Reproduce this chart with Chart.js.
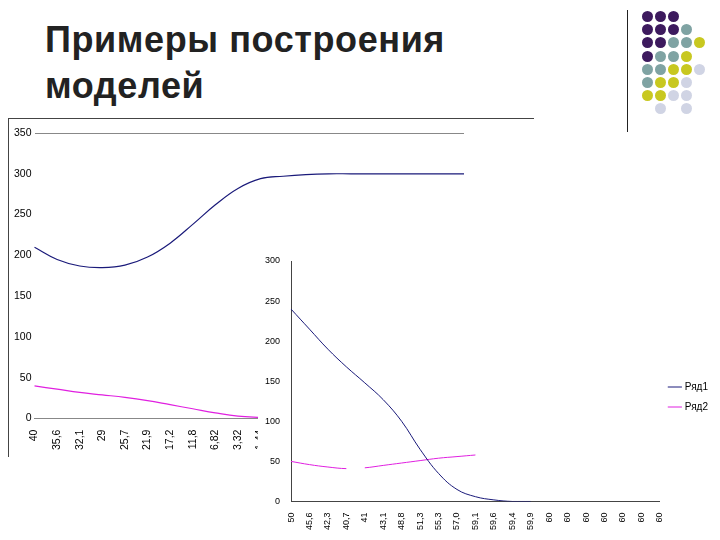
<!DOCTYPE html>
<html><head><meta charset="utf-8">
<script src="https://cdn.jsdelivr.net/npm/chart.js@4/dist/chart.umd.min.js"></script>
<style>
body{margin:0;width:720px;height:540px;background:#fff;position:relative;overflow:hidden;font-family:"Liberation Sans",Arial,sans-serif}
#title{position:absolute;left:45px;top:17px;font-size:36px;line-height:46px;color:#222;font-weight:bold;letter-spacing:0.6px}
.d{position:absolute;width:11px;height:11px;border-radius:50%}
#vl{position:absolute;left:627px;top:10px;width:1px;height:122px;background:#222}
#c1w{position:absolute;left:8px;top:118px;width:525px;height:338px;border-left:1px solid #444;border-top:1px solid #444}
#c2w{position:absolute;left:258px;top:245px;width:460px;height:292px;background:#fff}
canvas{display:block}
</style></head><body>
<div id="title">Примеры построения<br>моделей</div>
<div id="vl"></div>
<div id="dots"></div>
<div id="c1w"><canvas id="c1" width="525" height="338"></canvas></div>
<div id="c2w"><canvas id="c2" width="460" height="290"></canvas></div>
<script>
const labels1=["40","35,6","32,1","29","25,7","21,9","17,2","11,8","6,82","3,32","1,44","0,5","0,2","0,1","0,05","0,02","0,01","0","0","0"];
const s1a=[210,195,187,185,188,198,215,238,262,282,294,297,299,300,300,300,300,300,300,300];
const s1b=[40,36,32,29,26,22,17,12,7,3,1.5,0.5,0,0,0,0,0,0,0,0];
const labels2=["50","45,6","42,3","40,7","41","43,1","48,8","51,3","55,3","57,0","59,1","59,6","59,4","59,9","60","60","60","60","60","60","60"];
const s2a=[240,215,190,168,148,127,100,65,35,15,6,2,0,0,null,null,null,null,null,null,null];
const s2b=[50,46,43,41,42,45,48,51,54,56,58,null,null,null,null,null,null,null,null,null,null];
const dotRows=["PPP","PPPT","PPTTY","PTTY","TTYYL","TYYL","YYLL"," L L"];
const dotCol={P:"#3d1a5e",T:"#7fa3a3",Y:"#c8c820",L:"#d0d4e4"};
const dd=document.getElementById('dots');
dotRows.forEach((r,i)=>[...r].forEach((c,j)=>{if(c===' ')return;const e=document.createElement('div');e.className='d';e.style.left=(642+j*13)+'px';e.style.top=(11+i*13.2)+'px';e.style.background=dotCol[c];dd.appendChild(e);}));
Chart.defaults.animation=false;
Chart.defaults.font.family='"Liberation Sans",Arial,sans-serif';
new Chart(document.getElementById('c1'),{type:'line',data:{labels:labels1,datasets:[
{label:'Ряд1',data:s1a,borderColor:'#1a1a7a',borderWidth:1.2,pointRadius:0,tension:0.4},
{label:'Ряд2',data:s1b,borderColor:'#e020e0',borderWidth:1.2,pointRadius:0,tension:0.4}]},
options:{responsive:false,maintainAspectRatio:false,layout:{padding:{top:14,right:70,left:2,bottom:4}},plugins:{legend:{display:false}},
scales:{x:{grid:{display:false},border:{color:'#888'},ticks:{color:'#000',font:{size:10.5},maxRotation:90,minRotation:90,autoSkip:false}},
y:{min:0,max:350,ticks:{stepSize:50,color:'#000',font:{size:10.5}},grid:{color:c=>c.tick.value===350?'#888':'rgba(0,0,0,0)',drawTicks:false},border:{display:false}}}}});
new Chart(document.getElementById('c2'),{type:'line',data:{labels:labels2,datasets:[
{label:'Ряд1',data:s2a,borderColor:'#1a1a7a',borderWidth:1,pointRadius:0,tension:0.4},
{label:'Ряд2',data:s2b,borderColor:'#e020e0',borderWidth:1,pointRadius:0,tension:0.4,segment:{borderColor:c=>c.p0DataIndex===3?'rgba(0,0,0,0)':undefined}}]},
options:{responsive:false,maintainAspectRatio:false,layout:{padding:{top:16,left:4,bottom:2}},plugins:{legend:{position:'right',labels:{usePointStyle:true,pointStyle:'line',boxWidth:20,font:{size:10},color:'#000'}}},
scales:{x:{grid:{display:false},border:{color:'#444'},ticks:{color:'#000',font:{size:9},maxRotation:90,minRotation:90,autoSkip:false}},
y:{min:0,max:300,ticks:{stepSize:50,color:'#000',font:{size:9}},grid:{display:false},border:{color:'#444'}}}}});
</script>
</body></html>
